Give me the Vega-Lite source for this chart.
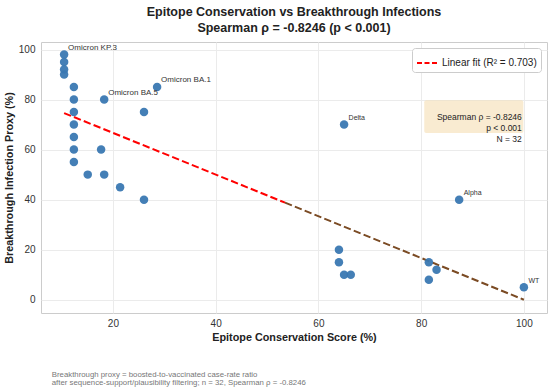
{
  "$schema": "https://vega.github.io/schema/vega-lite/v6.json",
  "width": 506,
  "height": 271,
  "autosize": "none",
  "padding": {"left": 41, "top": 42, "right": 3, "bottom": 79},
  "background": "white",
  "config": {
    "font": "Liberation Sans",
    "view": {"stroke": "#cccccc", "strokeWidth": 1},
    "axis": {
      "grid": true,
      "gridColor": "#ebebeb",
      "domain": false,
      "ticks": false,
      "labelColor": "#333333",
      "labelFontSize": 10,
      "titleColor": "#222222",
      "titleFontSize": 10.8,
      "titleFontWeight": "bold"
    }
  },
  "title": {
    "text": ["Epitope Conservation vs Breakthrough Infections", "Spearman ρ = -0.8246 (p < 0.001)"],
    "fontSize": 12.5,
    "fontWeight": "bold",
    "color": "#222222",
    "lineHeight": 16,
    "anchor": "middle",
    "frame": "group",
    "offset": 8
  },
  "datasets": {
    "points": [
      {"conservation": 10.5, "breakthrough": 98, "label": "Omicron KP.3"},
      {"conservation": 10.5, "breakthrough": 95, "label": ""},
      {"conservation": 10.5, "breakthrough": 92, "label": ""},
      {"conservation": 10.5, "breakthrough": 90, "label": ""},
      {"conservation": 12.4, "breakthrough": 85, "label": ""},
      {"conservation": 12.4, "breakthrough": 80, "label": ""},
      {"conservation": 12.4, "breakthrough": 75, "label": ""},
      {"conservation": 12.4, "breakthrough": 70, "label": ""},
      {"conservation": 12.4, "breakthrough": 65, "label": ""},
      {"conservation": 12.4, "breakthrough": 60, "label": ""},
      {"conservation": 12.4, "breakthrough": 55, "label": ""},
      {"conservation": 18.3, "breakthrough": 80, "label": "Omicron BA.5"},
      {"conservation": 28.6, "breakthrough": 85, "label": "Omicron BA.1"},
      {"conservation": 26.05, "breakthrough": 75, "label": ""},
      {"conservation": 17.7, "breakthrough": 60, "label": ""},
      {"conservation": 15.1, "breakthrough": 50, "label": ""},
      {"conservation": 18.3, "breakthrough": 50, "label": ""},
      {"conservation": 21.4, "breakthrough": 45, "label": ""},
      {"conservation": 26.05, "breakthrough": 40, "label": ""},
      {"conservation": 65.0, "breakthrough": 70, "label": "Delta"},
      {"conservation": 87.4, "breakthrough": 40, "label": "Alpha"},
      {"conservation": 64.0, "breakthrough": 20, "label": ""},
      {"conservation": 64.0, "breakthrough": 15, "label": ""},
      {"conservation": 65.0, "breakthrough": 10, "label": ""},
      {"conservation": 66.3, "breakthrough": 10, "label": ""},
      {"conservation": 81.5, "breakthrough": 15, "label": ""},
      {"conservation": 83.0, "breakthrough": 12, "label": ""},
      {"conservation": 81.5, "breakthrough": 8, "label": ""},
      {"conservation": 100, "breakthrough": 5, "label": "WT"}
    ],
    "fitRed": [
      {"conservation": 10.5, "breakthrough": 74.6},
      {"conservation": 53.5, "breakthrough": 38.8}
    ],
    "fitBrown": [
      {"conservation": 53.5, "breakthrough": 38.8},
      {"conservation": 100, "breakthrough": 0.0}
    ]
  },
  "layer": [
    {
      "data": {"name": "fitRed"},
      "mark": {"type": "line", "strokeWidth": 2, "strokeDash": [7.4, 3.2]},
      "encoding": {
        "x": {"field": "conservation", "type": "quantitative", "scale": {"domain": [6.0, 104.5], "nice": false, "zero": false},
              "axis": {"values": [20, 40, 60, 80, 100], "title": "Epitope Conservation Score (%)", "labelPadding": 5, "titlePadding": 3}},
        "y": {"field": "breakthrough", "type": "quantitative", "scale": {"domain": [-5.3, 103], "nice": false, "zero": false},
              "axis": {"values": [0, 20, 40, 60, 80, 100], "title": "Breakthrough Infection Proxy (%)", "labelPadding": 6, "titlePadding": 4}},
        "color": {
          "datum": "Linear fit (R² = 0.703)",
          "type": "nominal",
          "scale": {"range": ["#ff0000"]},
          "legend": {
            "title": null,
            "orient": "top-right",
            "offset": 6,
            "fillColor": "white",
            "strokeColor": "#cccccc",
            "cornerRadius": 3,
            "padding": 4,
            "labelFontSize": 10,
            "labelColor": "#222222",
            "labelLimit": 300,
            "symbolType": "stroke",
            "symbolStrokeWidth": 2,
            "symbolDash": [5, 2.5],
            "symbolSize": 400
          }
        }
      }
    },
    {
      "data": {"name": "fitBrown"},
      "mark": {"type": "line", "strokeWidth": 2, "strokeDash": [7.4, 3.2], "color": "#7b4b24"},
      "encoding": {
        "x": {"field": "conservation", "type": "quantitative"},
        "y": {"field": "breakthrough", "type": "quantitative"}
      }
    },
    {
      "data": {"name": "points"},
      "mark": {"type": "circle", "size": 72, "color": "#3a78b2", "opacity": 0.95},
      "encoding": {
        "x": {"field": "conservation", "type": "quantitative"},
        "y": {"field": "breakthrough", "type": "quantitative"}
      }
    },
    {
      "data": {"name": "points"},
      "transform": [{"filter": {"field": "label", "oneOf": ["Omicron KP.3", "Omicron BA.5", "Omicron BA.1"]}}],
      "mark": {"type": "text", "align": "left", "baseline": "middle", "dx": 4, "dy": -7, "fontSize": 8, "color": "#333333"},
      "encoding": {
        "x": {"field": "conservation", "type": "quantitative"},
        "y": {"field": "breakthrough", "type": "quantitative"},
        "text": {"field": "label"}
      }
    },
    {
      "data": {"name": "points"},
      "transform": [{"filter": {"field": "label", "oneOf": ["Delta", "Alpha", "WT"]}}],
      "mark": {"type": "text", "align": "left", "baseline": "middle", "dx": 4.5, "dy": -6.5, "fontSize": 7, "color": "#333333"},
      "encoding": {
        "x": {"field": "conservation", "type": "quantitative"},
        "y": {"field": "breakthrough", "type": "quantitative"},
        "text": {"field": "label"}
      }
    },
    {
      "data": {"values": [{}]},
      "mark": {"type": "rect", "fill": "#f5deb3", "fillOpacity": 0.6, "cornerRadius": 2},
      "encoding": {
        "x": {"datum": 80.6, "type": "quantitative"},
        "x2": {"datum": 99.9},
        "y": {"datum": 79.7, "type": "quantitative"},
        "y2": {"datum": 66.6}
      }
    },
    {
      "data": {"values": [{}]},
      "mark": {"type": "text", "align": "right", "baseline": "middle", "fontSize": 8.5, "lineHeight": 11.2, "color": "#222222",
               "text": ["Spearman ρ = -0.8246", "p < 0.001", "N = 32"]},
      "encoding": {
        "x": {"datum": 99.6, "type": "quantitative"},
        "y": {"datum": 73.2, "type": "quantitative"}
      }
    },
    {
      "data": {"values": [{}]},
      "mark": {"type": "text", "align": "left", "baseline": "middle", "fontSize": 7.8, "lineHeight": 8.5, "color": "#777777",
               "text": ["Breakthrough proxy = boosted-to-vaccinated case-rate ratio", "after sequence-support/plausibility filtering; n = 32, Spearman ρ = -0.8246"]},
      "encoding": {
        "x": {"datum": 8.1, "type": "quantitative"},
        "y": {"datum": -29.9, "type": "quantitative"}
      }
    }
  ]
}
